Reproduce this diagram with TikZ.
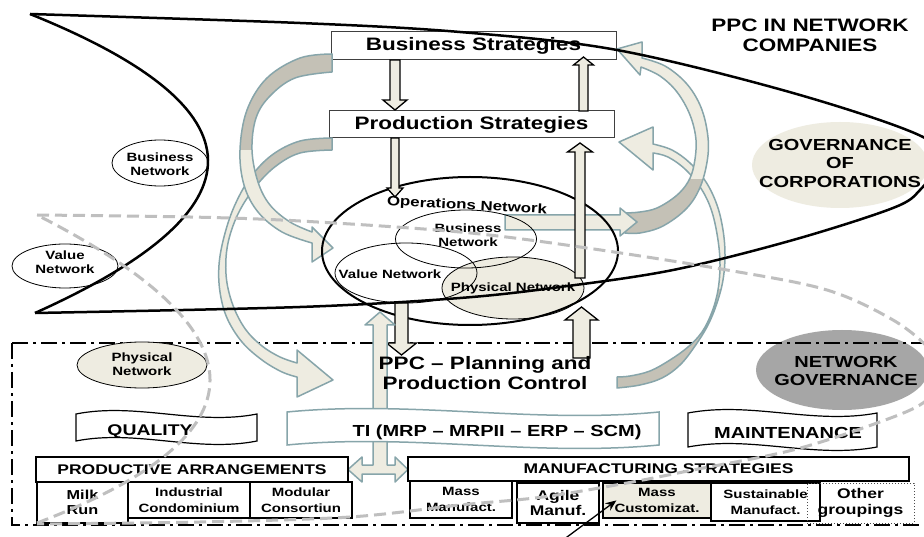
\documentclass[tikz,border=0pt]{standalone}
\usepackage{fontspec}
\setmainfont{Liberation Sans}[FakeStretch=1.25]
\usetikzlibrary{calc,shapes.geometric,arrows.meta}
\definecolor{cream}{RGB}{238,236,225}
\definecolor{arrgray}{RGB}{196,193,182}
\definecolor{tealc}{RGB}{135,165,170}
\definecolor{dashgray}{RGB}{191,191,191}
\definecolor{netgov}{RGB}{166,166,166}
\tikzset{
  lbl/.style 2 args={inner sep=0pt, align=center, font=\fontsize{#1}{#2}\selectfont\bfseries},
  ell/.style={ellipse, inner sep=0pt},
  sbox/.style={draw=black!75, line width=1pt, fill=white, inner sep=0pt},
  cell/.style={draw=black, line width=1.2pt, inner sep=0pt, align=center},
  blk/.style={draw=black, line width=1.3pt, fill=cream, line join=miter},
  tarr/.style={draw=tealc, line width=1.5pt, fill=cream, line join=round},
  bigline/.style={line width=2.5pt, black},
  dashline/.style={dashgray, line width=3pt, dash pattern=on 12pt off 6pt},
  dashdot/.style={line width=1.4pt, dash pattern=on 16pt off 5pt on 3pt off 5pt},
}
% vertical block arrow: x, y tail, y tip, shaft half width, head half width, y of head base
\newcommand{\vblk}[6]{\draw[blk] ({#1-#4},#2) -- ({#1-#4},#6) -- ({#1-#5},#6) -- (#1,#3) -- ({#1+#5},#6) -- ({#1+#4},#6) -- ({#1+#4},#2) -- cycle;}
% wave banner: style, x0, y top, x1, y bottom
\newcommand{\wavebanner}[5]{\draw[#1] (#2,#3) .. controls ({#2+(#4-#2)/3},{#3-12}) and ({#2+2*(#4-#2)/3},{#3+12}) .. (#4,#3) -- (#4,#5) .. controls ({#2+2*(#4-#2)/3},{#5+12}) and ({#2+(#4-#2)/3},{#5-12}) .. (#2,#5) -- cycle;}
% curved arrow: path, clip region for the grey part
\newcommand{\curvarrow}[2]{%
  \fill[cream] #1;
  \begin{scope}\clip #2; \fill[arrgray] #1; \end{scope}
  \draw[draw=tealc, line width=1.5pt, line join=round] #1;}
\begin{document}
\begin{tikzpicture}[x=1pt,y=-1pt]
\useasboundingbox (0,0) rectangle (924,537);
\clip (0,0) rectangle (924,537);
\fill[white] (0,0) rectangle (924,537);

% governance ellipses
\node[ell, fill=cream, minimum width=176pt, minimum height=86pt] (gov) at (840,165) {};
\node[lbl={16}{18.5}] (govt) at (840,163) {GOVERNANCE\\OF\\CORPORATIONS};
\node[ell, fill=netgov, minimum width=172pt, minimum height=80pt] (ng) at (842,370) {};
\node[lbl={16}{18}] (ngt) at (846,371) {NETWORK\\GOVERNANCE};

% title
\node[lbl={18}{20}] (title) at (810,35) {PPC IN NETWORK\\COMPANIES};

% dash-dot frame
\draw[dashdot] (12,343) rectangle (940,525);

% strategy boxes
\node[sbox, minimum width=285pt, minimum height=28pt, lbl={18}{20}] (bs) at (473.5,46) {Business Strategies};
\node[sbox, minimum width=285pt, minimum height=27pt, lbl={18}{20}] (ps) at (471.5,124.5) {Production Strategies};

% curved arrows
\curvarrow{plot[smooth,tension=.6] coordinates {(332,138) (300,141) (272,155) (250,178) (234,207) (224,237) (219,265) (220,292) (227,318) (242,342) (262,360) (282,372) (297,377)} -- (297,397) -- (333,380) -- (297,350) -- plot[smooth,tension=.6] coordinates {(297,363) (280,357) (262,346) (246,330) (234,308) (227,283) (226,258) (230,235) (240,210) (256,186) (276,166) (300,153) (332,150)} -- cycle}{(0,0) rectangle (924,182)}
\curvarrow{plot[smooth,tension=.6] coordinates {(332,54) (300,58) (267,78) (247,110) (240,150) (244,185) (258,212) (282,232) (312,243)} -- (312,262) -- (333,248) -- (312,227) -- plot[smooth,tension=.6] coordinates {(312,232) (290,222) (270,205) (258,182) (252,150) (256,118) (270,96) (295,78) (332,72)} -- cycle}{(0,0) rectangle (924,150)}
\curvarrow{plot[smooth,tension=.6] coordinates {(617,388) (640,385) (662,378) (680,365) (695,346) (708,325) (717,303) (723,280) (725,255) (723,230) (717,205) (706,182) (690,163) (672,150) (653,144)} -- (653,127) -- (619,142) -- (653,170) -- plot[smooth,tension=.6] coordinates {(653,153) (668,157) (686,170) (702,190) (712,212) (718,240) (720,265) (718,290) (712,312) (702,332) (688,347) (670,360) (650,371) (630,376) (617,377)} -- cycle}{(0,290) rectangle (924,537)}
\curvarrow{plot[smooth,tension=.6] coordinates {(625,233) (640,233) (663,226) (687,208) (701,185) (708,155) (707,130) (700,105) (686,83) (665,66) (642,58)} -- (642,42) -- (617,49) -- (640,75) -- plot[smooth,tension=.6] coordinates {(641,67) (660,76) (677,92) (690,115) (696,140) (694,165) (688,182) (676,196) (657,208) (640,212) (625,213)} -- cycle}{(0,180) rectangle (924,537)}
% straight arrow out of the operations network
\draw[tarr] (505,215) -- (620,215) -- (620,208) -- (637,222) -- (620,236) -- (620,230) -- (505,230) -- cycle;

% operations network
\node[ell, draw, line width=0.8pt, fill=cream, minimum width=142pt, minimum height=62pt] (ipn) at (513,288) {};
\node[ell, draw, line width=2pt, minimum width=296pt, minimum height=148pt] (ops) at (470,251) {};
\node[ell, draw, line width=0.8pt, minimum width=142pt, minimum height=60pt] (ivn) at (406,273) {};
\node[ell, draw, line width=0.8pt, minimum width=141pt, minimum height=58pt] (ibn) at (466,239) {};
\node[lbl={13.5}{15}, rotate=-3] (opst) at (467,206) {Operations Network};
\node[lbl={12}{14}] (ibnt) at (468,235) {Business\\Network};
\node[lbl={12}{14}] (ivnt) at (390,274) {Value Network};
\node[lbl={12}{14}] (ipnt) at (513,288) {Physical Network};

% block arrows
\vblk{395}{60}{110}{5}{12}{100}
\vblk{395}{138}{197}{4}{8}{188}
\vblk{583.5}{111}{57}{4.5}{10}{65}
\vblk{580}{278}{143}{5}{12.5}{152}
\vblk{401.5}{303}{355}{6.5}{15}{343}
\vblk{581.5}{358}{307}{8.5}{16.5}{320}

% left ellipses
\node[ell, draw, line width=0.8pt, fill=white, minimum width=96pt, minimum height=46pt] (bn) at (160,163) {};
\node[lbl={12}{14}] (bnt) at (160,164) {Business\\Network};
\node[ell, draw, line width=0.8pt, fill=white, minimum width=106pt, minimum height=44pt] (vn) at (65,266) {};
\node[lbl={12}{14}] (vnt) at (65,262) {Value\\Network};
\node[ell, draw, line width=0.8pt, fill=cream, minimum width=130pt, minimum height=46pt] (pn) at (142,365) {};
\node[lbl={12}{14}] (pnt) at (142,364) {Physical\\Network};

% T-shaped teal arrow
\draw[tarr] (380,312) -- (395,325) -- (387,325) -- (387,465) -- (395,465) -- (395,457) -- (408,469.5) -- (395,482) -- (395,474) -- (362,474) -- (362,482) -- (348,469.5) -- (362,457) -- (362,465) -- (373,465) -- (373,325) -- (365,325) -- cycle;

% PPC
\node[lbl={18}{20}] (ppc) at (485,373) {PPC – Planning and\\Production Control};

% banners
\wavebanner{draw=black, line width=1.2pt, fill=white}{76}{414}{257}{441}
\node[lbl={15.5}{17}] (qual) at (150,432) {QUALITY};
\wavebanner{draw=tealc, line width=1.5pt, fill=white}{287}{412}{659}{445}
\node[lbl={16}{18}] (ti) at (497,432) {TI (MRP – MRPII – ERP – SCM)};
\wavebanner{draw=black, line width=1.2pt, fill=white}{688}{413}{877}{447}
\node[lbl={16}{18}] (maint) at (788,433) {MAINTENANCE};

% bottom boxes
\node[cell, line width=2pt, fill=white, minimum width=312pt, minimum height=25pt, lbl={14}{16}] (pa) at (192,469.5) {PRODUCTIVE ARRANGEMENTS};
\node[cell, fill=white, minimum width=91pt, minimum height=41pt, lbl={13}{15}] (mr) at (82.5,502.5) {Milk\\Run};
\node[cell, fill=white, minimum width=122pt, minimum height=36pt, lbl={12}{15.5}] (ic) at (189,500) {Industrial\\Condominium};
\node[cell, fill=white, minimum width=102pt, minimum height=36pt, lbl={12}{15.5}] (mo) at (301,500) {Modular\\Consortiun};
\node[cell, line width=2pt, fill=white, minimum width=501pt, minimum height=24pt, lbl={14}{16}] (ms) at (658.5,469) {MANUFACTURING STRATEGIES};
\node[cell, fill=white, minimum width=102pt, minimum height=37pt, lbl={12}{15.5}] (mm) at (461,499.5) {Mass\\Manufact.};
\node[cell, fill=white, minimum width=82pt, minimum height=40pt, lbl={14}{15.5}] (am) at (558,503) {Agile\\Manuf.};
\node[cell, fill=cream, minimum width=108pt, minimum height=35pt, lbl={12}{15.5}] (mc) at (657,500.5) {Mass\\Customizat.};
\node[cell, fill=white, minimum width=109pt, minimum height=38pt, lbl={12}{15.5}] (sm) at (765.5,502) {Sustainable\\Manufact.};
\node[cell, draw=black!70, line width=1pt, dotted, minimum width=107pt, minimum height=40pt, lbl={14}{16}] (og) at (860.5,503) {Other\\groupings};

% big black network outline
\draw[bigline] (35,313) .. controls (267.3,208.7) and (265.7,109) .. (30,14);
\draw[bigline, line join=round] plot[smooth, tension=.55] coordinates {(30,14) (300,23) (460,32) (617,50) (793,93) (923,137) (935,165) (920,190) (893,208) (793,240) (673,270) (560,287) (460,298) (300,307) (35,313)};

% grey dashed outline
\draw[dashline] (37,523) .. controls (267.7,435) and (267.7,332.3) .. (37,215);
\draw[dashline] plot[smooth, tension=.55] coordinates {(37,215) (190,217) (300,221) (460,232) (580,247) (727,270) (827,290) (893,320) (930,350) (942,378) (923,403) (877,423) (793,450) (693,470) (627,483) (543,497) (460,505) (350,517) (200,522) (37,524)};

% pointer
\coordinate (ptail) at (563,540);
\draw[line width=1.3pt, -{Stealth[length=11pt,width=9pt]}] (ptail) -- ($(mc.north west)+(14,18)$);
\end{tikzpicture}
\end{document}
